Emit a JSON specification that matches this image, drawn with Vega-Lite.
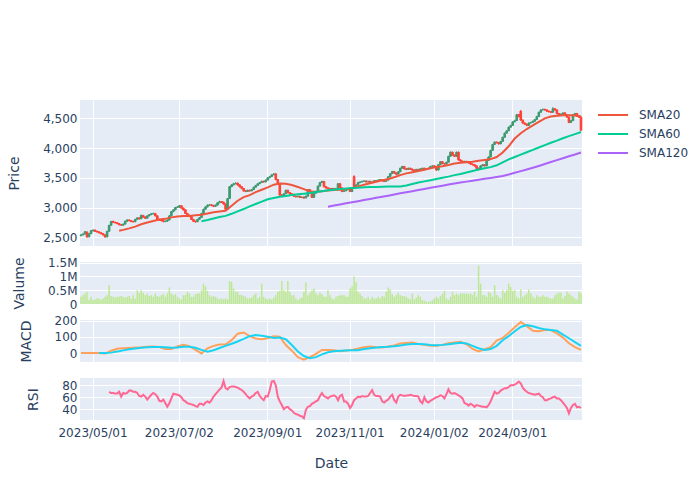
{
"$schema": "https://vega.github.io/schema/vega-lite/v6.json",
"autosize": {"type": "pad"},
"padding": {"left": 7, "top": 100, "right": 0, "bottom": 0},
"background": "white",
"bounds": "flush",
"spacing": 16,
"config": {
  "font": "DejaVu Sans",
  "view": {"fill": "#E5ECF6", "stroke": null},
  "axis": {"domain": false, "ticks": false, "grid": true, "gridColor": "#ffffff", "gridWidth": 1, "gridOpacity": 1, "labelColor": "#2a3f5f", "labelFontSize": 12, "labelPadding": 3, "labelOverlap": false, "titleColor": "#2a3f5f", "titleFontSize": 14, "titleFontWeight": "normal", "titlePadding": 21, "bandPosition": 0.5}
},
"resolve": {"scale": {"x": "shared"}},
"datasets": {
"candles": [
{"date":"2023/04/21","open":2528,"high":2552,"low":2518,"close":2540,"volume":262000},
{"date":"2023/04/24","open":2542,"high":2568,"low":2532,"close":2555,"volume":321000},
{"date":"2023/04/25","open":2556,"high":2605,"low":2548,"close":2594,"volume":381000},
{"date":"2023/04/26","open":2590,"high":2598,"low":2495,"close":2505,"volume":440000},
{"date":"2023/04/27","open":2508,"high":2570,"low":2500,"close":2560,"volume":143000},
{"date":"2023/04/28","open":2562,"high":2622,"low":2555,"close":2610,"volume":262000},
{"date":"2023/05/01","open":2608,"high":2635,"low":2598,"close":2620,"volume":143000},
{"date":"2023/05/04","open":2622,"high":2630,"low":2590,"close":2600,"volume":167000},
{"date":"2023/05/05","open":2602,"high":2610,"low":2578,"close":2590,"volume":202000},
{"date":"2023/05/08","open":2592,"high":2600,"low":2565,"close":2575,"volume":202000},
{"date":"2023/05/09","open":2577,"high":2585,"low":2550,"close":2560,"volume":167000},
{"date":"2023/05/10","open":2562,"high":2570,"low":2530,"close":2540,"volume":202000},
{"date":"2023/05/11","open":2542,"high":2548,"low":2495,"close":2505,"volume":262000},
{"date":"2023/05/12","open":2508,"high":2610,"low":2500,"close":2600,"volume":321000},
{"date":"2023/05/15","open":2602,"high":2712,"low":2595,"close":2700,"volume":678000,"rsi":69},
{"date":"2023/05/16","open":2702,"high":2778,"low":2695,"close":2765,"volume":286000,"rsi":67},
{"date":"2023/05/17","open":2768,"high":2780,"low":2740,"close":2750,"volume":262000,"rsi":67},
{"date":"2023/05/18","open":2752,"high":2762,"low":2732,"close":2745,"volume":238000,"rsi":66},
{"date":"2023/05/19","open":2748,"high":2755,"low":2720,"close":2730,"volume":262000,"rsi":66},
{"date":"2023/05/22","open":2732,"high":2740,"low":2700,"close":2710,"volume":262000,"rsi":69},
{"date":"2023/05/23","open":2712,"high":2725,"low":2692,"close":2705,"volume":286000,"rsi":61},
{"date":"2023/05/24","open":2703,"high":2732,"low":2695,"close":2720,"volume":262000,"rsi":67},
{"date":"2023/05/25","open":2722,"high":2782,"low":2715,"close":2770,"volume":238000,"rsi":66},
{"date":"2023/05/26","open":2772,"high":2805,"low":2762,"close":2790,"volume":262000,"rsi":67},
{"date":"2023/05/29","open":2792,"high":2800,"low":2768,"close":2780,"volume":286000,"rsi":71},
{"date":"2023/05/30","open":2782,"high":2790,"low":2755,"close":2765,"volume":202000,"rsi":71},
{"date":"2023/05/31","open":2767,"high":2778,"low":2748,"close":2760,"volume":321000,"rsi":69},
{"date":"2023/06/01","open":2762,"high":2812,"low":2755,"close":2800,"volume":202000,"rsi":69},
{"date":"2023/06/02","open":2802,"high":2838,"low":2795,"close":2825,"volume":500000,"rsi":67},
{"date":"2023/06/05","open":2827,"high":2835,"low":2798,"close":2810,"volume":405000,"rsi":62},
{"date":"2023/06/06","open":2812,"high":2882,"low":2805,"close":2870,"volume":500000,"rsi":61},
{"date":"2023/06/07","open":2868,"high":2875,"low":2830,"close":2840,"volume":405000,"rsi":64},
{"date":"2023/06/08","open":2842,"high":2850,"low":2808,"close":2820,"volume":321000,"rsi":61},
{"date":"2023/06/09","open":2822,"high":2870,"low":2815,"close":2860,"volume":381000,"rsi":56},
{"date":"2023/06/12","open":2862,"high":2892,"low":2852,"close":2880,"volume":286000,"rsi":60},
{"date":"2023/06/13","open":2882,"high":2908,"low":2872,"close":2895,"volume":321000,"rsi":64},
{"date":"2023/06/14","open":2893,"high":2915,"low":2885,"close":2900,"volume":262000,"rsi":67},
{"date":"2023/06/15","open":2902,"high":2908,"low":2850,"close":2860,"volume":381000,"rsi":65},
{"date":"2023/06/16","open":2862,"high":2868,"low":2790,"close":2800,"volume":286000,"rsi":61},
{"date":"2023/06/19","open":2802,"high":2812,"low":2778,"close":2790,"volume":262000,"rsi":54},
{"date":"2023/06/20","open":2792,"high":2800,"low":2768,"close":2780,"volume":321000,"rsi":53},
{"date":"2023/06/21","open":2782,"high":2790,"low":2752,"close":2765,"volume":357000,"rsi":56},
{"date":"2023/06/22","open":2763,"high":2782,"low":2755,"close":2770,"volume":262000,"rsi":50},
{"date":"2023/06/23","open":2772,"high":2802,"low":2762,"close":2790,"volume":381000,"rsi":44},
{"date":"2023/06/26","open":2792,"high":2872,"low":2785,"close":2860,"volume":595000,"rsi":50},
{"date":"2023/06/27","open":2862,"high":2942,"low":2855,"close":2930,"volume":381000,"rsi":58},
{"date":"2023/06/28","open":2932,"high":2972,"low":2922,"close":2960,"volume":321000,"rsi":66},
{"date":"2023/06/29","open":2962,"high":3012,"low":2955,"close":3000,"volume":357000,"rsi":65},
{"date":"2023/06/30","open":3002,"high":3025,"low":2992,"close":3010,"volume":262000,"rsi":64},
{"date":"2023/07/03","open":3008,"high":3045,"low":3000,"close":3030,"volume":202000,"rsi":63},
{"date":"2023/07/04","open":3032,"high":3038,"low":2980,"close":2990,"volume":167000,"rsi":60},
{"date":"2023/07/05","open":2992,"high":3000,"low":2948,"close":2960,"volume":321000,"rsi":55},
{"date":"2023/07/06","open":2962,"high":2968,"low":2890,"close":2900,"volume":321000,"rsi":53},
{"date":"2023/07/07","open":2902,"high":2910,"low":2858,"close":2870,"volume":440000,"rsi":50},
{"date":"2023/07/10","open":2872,"high":2880,"low":2838,"close":2850,"volume":381000,"rsi":49},
{"date":"2023/07/11","open":2852,"high":2858,"low":2790,"close":2800,"volume":262000,"rsi":48},
{"date":"2023/07/12","open":2802,"high":2810,"low":2758,"close":2770,"volume":262000,"rsi":47},
{"date":"2023/07/13","open":2772,"high":2780,"low":2745,"close":2760,"volume":357000,"rsi":45},
{"date":"2023/07/14","open":2762,"high":2812,"low":2755,"close":2800,"volume":381000,"rsi":44},
{"date":"2023/07/17","open":2802,"high":2842,"low":2795,"close":2830,"volume":381000,"rsi":49},
{"date":"2023/07/18","open":2832,"high":2912,"low":2825,"close":2900,"volume":500000,"rsi":49},
{"date":"2023/07/19","open":2902,"high":2982,"low":2895,"close":2970,"volume":738000,"rsi":47},
{"date":"2023/07/20","open":2972,"high":3022,"low":2962,"close":3010,"volume":643000,"rsi":51},
{"date":"2023/07/21","open":3012,"high":3052,"low":3002,"close":3040,"volume":476000,"rsi":53},
{"date":"2023/07/24","open":3042,"high":3060,"low":3030,"close":3045,"volume":321000,"rsi":51},
{"date":"2023/07/25","open":3047,"high":3055,"low":3022,"close":3035,"volume":262000,"rsi":55},
{"date":"2023/07/26","open":3037,"high":3045,"low":3008,"close":3020,"volume":286000,"rsi":61},
{"date":"2023/07/27","open":3022,"high":3052,"low":3012,"close":3040,"volume":262000,"rsi":65},
{"date":"2023/07/28","open":3042,"high":3092,"low":3035,"close":3080,"volume":202000,"rsi":69},
{"date":"2023/07/31","open":3082,"high":3115,"low":3072,"close":3100,"volume":167000,"rsi":73},
{"date":"2023/08/01","open":3102,"high":3110,"low":3078,"close":3090,"volume":202000,"rsi":76},
{"date":"2023/08/02","open":3092,"high":3098,"low":3048,"close":3060,"volume":167000,"rsi":87},
{"date":"2023/08/03","open":3062,"high":3068,"low":2958,"close":2970,"volume":202000,"rsi":75},
{"date":"2023/08/04","open":2972,"high":3162,"low":2965,"close":3150,"volume":167000,"rsi":73},
{"date":"2023/08/07","open":3152,"high":3362,"low":3145,"close":3350,"volume":833000,"rsi":77},
{"date":"2023/08/08","open":3352,"high":3395,"low":3340,"close":3380,"volume":797000,"rsi":78},
{"date":"2023/08/09","open":3382,"high":3415,"low":3370,"close":3400,"volume":560000,"rsi":78},
{"date":"2023/08/10","open":3402,"high":3425,"low":3390,"close":3410,"volume":440000,"rsi":77},
{"date":"2023/08/11","open":3412,"high":3420,"low":3368,"close":3380,"volume":440000,"rsi":76},
{"date":"2023/08/14","open":3382,"high":3390,"low":3338,"close":3350,"volume":321000,"rsi":74},
{"date":"2023/08/15","open":3352,"high":3360,"low":3308,"close":3320,"volume":321000,"rsi":72},
{"date":"2023/08/16","open":3322,"high":3328,"low":3268,"close":3280,"volume":286000,"rsi":69},
{"date":"2023/08/17","open":3282,"high":3292,"low":3258,"close":3270,"volume":262000,"rsi":65},
{"date":"2023/08/18","open":3272,"high":3302,"low":3262,"close":3290,"volume":202000,"rsi":61},
{"date":"2023/08/21","open":3292,"high":3300,"low":3268,"close":3280,"volume":202000,"rsi":58},
{"date":"2023/08/22","open":3282,"high":3312,"low":3272,"close":3300,"volume":238000,"rsi":61},
{"date":"2023/08/23","open":3302,"high":3352,"low":3295,"close":3340,"volume":321000,"rsi":63},
{"date":"2023/08/24","open":3342,"high":3382,"low":3335,"close":3370,"volume":381000,"rsi":67},
{"date":"2023/08/25","open":3372,"high":3412,"low":3365,"close":3400,"volume":202000,"rsi":69},
{"date":"2023/08/28","open":3402,"high":3432,"low":3392,"close":3420,"volume":262000,"rsi":62},
{"date":"2023/08/29","open":3422,"high":3452,"low":3412,"close":3440,"volume":738000,"rsi":58},
{"date":"2023/08/30","open":3442,"high":3450,"low":3418,"close":3430,"volume":262000,"rsi":55},
{"date":"2023/08/31","open":3432,"high":3472,"low":3425,"close":3460,"volume":202000,"rsi":62},
{"date":"2023/09/01","open":3462,"high":3512,"low":3455,"close":3500,"volume":167000,"rsi":61},
{"date":"2023/09/04","open":3502,"high":3532,"low":3492,"close":3520,"volume":202000,"rsi":72},
{"date":"2023/09/05","open":3522,"high":3562,"low":3515,"close":3550,"volume":167000,"rsi":86},
{"date":"2023/09/06","open":3552,"high":3580,"low":3542,"close":3565,"volume":238000,"rsi":87},
{"date":"2023/09/07","open":3567,"high":3572,"low":3460,"close":3470,"volume":321000,"rsi":80},
{"date":"2023/09/08","open":3472,"high":3478,"low":3390,"close":3400,"volume":440000,"rsi":61},
{"date":"2023/09/11","open":3402,"high":3408,"low":3198,"close":3210,"volume":476000,"rsi":53},
{"date":"2023/09/12","open":3212,"high":3225,"low":3178,"close":3190,"volume":833000,"rsi":47},
{"date":"2023/09/13","open":3192,"high":3242,"low":3185,"close":3230,"volume":500000,"rsi":40},
{"date":"2023/09/14","open":3232,"high":3302,"low":3225,"close":3290,"volume":440000,"rsi":43},
{"date":"2023/09/15","open":3292,"high":3298,"low":3240,"close":3250,"volume":833000,"rsi":44},
{"date":"2023/09/18","open":3252,"high":3260,"low":3218,"close":3230,"volume":440000,"rsi":40},
{"date":"2023/09/19","open":3232,"high":3240,"low":3208,"close":3220,"volume":321000,"rsi":38},
{"date":"2023/09/20","open":3222,"high":3228,"low":3178,"close":3190,"volume":321000,"rsi":34},
{"date":"2023/09/21","open":3192,"high":3200,"low":3168,"close":3180,"volume":202000,"rsi":32},
{"date":"2023/09/22","open":3182,"high":3202,"low":3172,"close":3190,"volume":143000,"rsi":31},
{"date":"2023/09/25","open":3192,"high":3198,"low":3160,"close":3170,"volume":202000,"rsi":29},
{"date":"2023/09/26","open":3168,"high":3188,"low":3158,"close":3175,"volume":238000,"rsi":28},
{"date":"2023/09/27","open":3177,"high":3185,"low":3148,"close":3160,"volume":440000,"rsi":25},
{"date":"2023/09/28","open":3162,"high":3202,"low":3155,"close":3190,"volume":774000,"rsi":39},
{"date":"2023/09/29","open":3192,"high":3312,"low":3185,"close":3300,"volume":321000,"rsi":44},
{"date":"2023/10/04","open":3302,"high":3308,"low":3258,"close":3270,"volume":405000,"rsi":45},
{"date":"2023/10/05","open":3272,"high":3278,"low":3160,"close":3170,"volume":500000,"rsi":49},
{"date":"2023/10/06","open":3172,"high":3252,"low":3165,"close":3240,"volume":560000,"rsi":51},
{"date":"2023/10/09","open":3242,"high":3282,"low":3235,"close":3270,"volume":381000,"rsi":53},
{"date":"2023/10/10","open":3272,"high":3372,"low":3265,"close":3360,"volume":321000,"rsi":55},
{"date":"2023/10/11","open":3362,"high":3432,"low":3355,"close":3420,"volume":405000,"rsi":62},
{"date":"2023/10/12","open":3422,"high":3452,"low":3412,"close":3437,"volume":357000,"rsi":67},
{"date":"2023/10/13","open":3439,"high":3445,"low":3340,"close":3350,"volume":262000,"rsi":62},
{"date":"2023/10/16","open":3352,"high":3360,"low":3318,"close":3330,"volume":262000,"rsi":60},
{"date":"2023/10/17","open":3332,"high":3340,"low":3308,"close":3320,"volume":500000,"rsi":58},
{"date":"2023/10/18","open":3322,"high":3330,"low":3298,"close":3310,"volume":321000,"rsi":61},
{"date":"2023/10/19","open":3308,"high":3332,"low":3298,"close":3320,"volume":202000,"rsi":62},
{"date":"2023/10/20","open":3322,"high":3328,"low":3288,"close":3300,"volume":167000,"rsi":63},
{"date":"2023/10/23","open":3302,"high":3332,"low":3292,"close":3320,"volume":262000,"rsi":61},
{"date":"2023/10/24","open":3322,"high":3412,"low":3315,"close":3400,"volume":286000,"rsi":55},
{"date":"2023/10/25","open":3402,"high":3408,"low":3320,"close":3330,"volume":321000,"rsi":62},
{"date":"2023/10/26","open":3332,"high":3338,"low":3258,"close":3270,"volume":321000,"rsi":64},
{"date":"2023/10/27","open":3272,"high":3292,"low":3262,"close":3280,"volume":321000,"rsi":53},
{"date":"2023/10/30","open":3282,"high":3312,"low":3275,"close":3300,"volume":262000,"rsi":53},
{"date":"2023/10/31","open":3302,"high":3322,"low":3292,"close":3310,"volume":262000,"rsi":49},
{"date":"2023/11/01","open":3312,"high":3318,"low":3258,"close":3270,"volume":560000,"rsi":42},
{"date":"2023/11/02","open":3272,"high":3312,"low":3265,"close":3300,"volume":643000,"rsi":47},
{"date":"2023/11/03","open":3520,"high":3545,"low":3320,"close":3330,"volume":1000000,"rsi":55},
{"date":"2023/11/06","open":3332,"high":3392,"low":3325,"close":3380,"volume":797000,"rsi":58},
{"date":"2023/11/07","open":3382,"high":3432,"low":3375,"close":3420,"volume":440000,"rsi":61},
{"date":"2023/11/08","open":3422,"high":3442,"low":3410,"close":3430,"volume":381000,"rsi":60},
{"date":"2023/11/09","open":3432,"high":3452,"low":3422,"close":3440,"volume":286000,"rsi":62},
{"date":"2023/11/10","open":3442,"high":3458,"low":3432,"close":3445,"volume":202000,"rsi":61},
{"date":"2023/11/13","open":3447,"high":3455,"low":3418,"close":3430,"volume":202000,"rsi":61},
{"date":"2023/11/14","open":3432,"high":3452,"low":3422,"close":3440,"volume":262000,"rsi":62},
{"date":"2023/11/15","open":3442,"high":3450,"low":3408,"close":3420,"volume":167000,"rsi":67},
{"date":"2023/11/16","open":3422,"high":3442,"low":3412,"close":3430,"volume":262000,"rsi":72},
{"date":"2023/11/17","open":3432,"high":3462,"low":3422,"close":3450,"volume":202000,"rsi":64},
{"date":"2023/11/20","open":3452,"high":3460,"low":3428,"close":3440,"volume":202000,"rsi":62},
{"date":"2023/11/21","open":3442,"high":3472,"low":3432,"close":3460,"volume":262000,"rsi":62},
{"date":"2023/11/22","open":3462,"high":3482,"low":3452,"close":3470,"volume":202000,"rsi":61},
{"date":"2023/11/23","open":3472,"high":3480,"low":3438,"close":3450,"volume":286000,"rsi":53},
{"date":"2023/11/24","open":3452,"high":3460,"low":3428,"close":3440,"volume":262000,"rsi":51},
{"date":"2023/11/27","open":3442,"high":3472,"low":3432,"close":3460,"volume":440000,"rsi":54},
{"date":"2023/11/28","open":3462,"high":3532,"low":3455,"close":3520,"volume":595000,"rsi":56},
{"date":"2023/11/29","open":3522,"high":3582,"low":3515,"close":3570,"volume":524000,"rsi":61},
{"date":"2023/11/30","open":3572,"high":3618,"low":3565,"close":3605,"volume":357000,"rsi":64},
{"date":"2023/12/01","open":3607,"high":3615,"low":3568,"close":3580,"volume":262000,"rsi":55},
{"date":"2023/12/04","open":3582,"high":3590,"low":3548,"close":3560,"volume":321000,"rsi":51},
{"date":"2023/12/05","open":3562,"high":3612,"low":3555,"close":3600,"volume":405000,"rsi":61},
{"date":"2023/12/06","open":3602,"high":3672,"low":3595,"close":3660,"volume":321000,"rsi":64},
{"date":"2023/12/07","open":3662,"high":3702,"low":3655,"close":3690,"volume":286000,"rsi":63},
{"date":"2023/12/08","open":3692,"high":3698,"low":3640,"close":3650,"volume":286000,"rsi":62},
{"date":"2023/12/11","open":3652,"high":3662,"low":3628,"close":3640,"volume":262000,"rsi":63},
{"date":"2023/12/12","open":3642,"high":3672,"low":3632,"close":3660,"volume":202000,"rsi":63},
{"date":"2023/12/13","open":3662,"high":3670,"low":3632,"close":3645,"volume":167000,"rsi":64},
{"date":"2023/12/14","open":3647,"high":3655,"low":3618,"close":3630,"volume":381000,"rsi":63},
{"date":"2023/12/15","open":3632,"high":3640,"low":3608,"close":3620,"volume":167000,"rsi":62},
{"date":"2023/12/18","open":3622,"high":3652,"low":3612,"close":3640,"volume":238000,"rsi":62},
{"date":"2023/12/19","open":3642,"high":3650,"low":3618,"close":3630,"volume":321000,"rsi":61},
{"date":"2023/12/20","open":3632,"high":3662,"low":3622,"close":3650,"volume":262000,"rsi":53},
{"date":"2023/12/21","open":3652,"high":3672,"low":3642,"close":3660,"volume":143000,"rsi":50},
{"date":"2023/12/22","open":3662,"high":3670,"low":3628,"close":3640,"volume":119000,"rsi":60},
{"date":"2023/12/26","open":3642,"high":3662,"low":3632,"close":3650,"volume":83000,"rsi":53},
{"date":"2023/12/27","open":3652,"high":3672,"low":3642,"close":3660,"volume":83000,"rsi":51},
{"date":"2023/12/28","open":3662,"high":3702,"low":3655,"close":3690,"volume":83000,"rsi":54},
{"date":"2023/12/29","open":3692,"high":3712,"low":3682,"close":3700,"volume":143000,"rsi":56},
{"date":"2024/01/02","open":3702,"high":3710,"low":3678,"close":3690,"volume":202000,"rsi":58},
{"date":"2024/01/03","open":3692,"high":3698,"low":3618,"close":3630,"volume":262000,"rsi":60},
{"date":"2024/01/04","open":3632,"high":3732,"low":3625,"close":3720,"volume":202000,"rsi":61},
{"date":"2024/01/05","open":3722,"high":3782,"low":3715,"close":3770,"volume":286000,"rsi":63},
{"date":"2024/01/08","open":3772,"high":3780,"low":3728,"close":3740,"volume":357000,"rsi":62},
{"date":"2024/01/09","open":3742,"high":3750,"low":3718,"close":3730,"volume":476000,"rsi":58},
{"date":"2024/01/10","open":3732,"high":3772,"low":3725,"close":3760,"volume":202000,"rsi":65},
{"date":"2024/01/11","open":3762,"high":3872,"low":3755,"close":3860,"volume":143000,"rsi":73},
{"date":"2024/01/12","open":3862,"high":3945,"low":3855,"close":3930,"volume":262000,"rsi":67},
{"date":"2024/01/15","open":3932,"high":3940,"low":3868,"close":3880,"volume":440000,"rsi":66},
{"date":"2024/01/16","open":3882,"high":3890,"low":3848,"close":3860,"volume":321000,"rsi":67},
{"date":"2024/01/17","open":3862,"high":3942,"low":3855,"close":3930,"volume":381000,"rsi":65},
{"date":"2024/01/18","open":3932,"high":3940,"low":3788,"close":3800,"volume":321000,"rsi":63},
{"date":"2024/01/19","open":3802,"high":3810,"low":3768,"close":3780,"volume":381000,"rsi":61},
{"date":"2024/01/22","open":3782,"high":3790,"low":3748,"close":3760,"volume":381000,"rsi":58},
{"date":"2024/01/23","open":3762,"high":3788,"low":3752,"close":3775,"volume":381000,"rsi":50},
{"date":"2024/01/24","open":3777,"high":3785,"low":3748,"close":3760,"volume":381000,"rsi":49},
{"date":"2024/01/25","open":3762,"high":3770,"low":3738,"close":3750,"volume":357000,"rsi":46},
{"date":"2024/01/26","open":3752,"high":3760,"low":3718,"close":3730,"volume":381000,"rsi":49},
{"date":"2024/01/29","open":3732,"high":3740,"low":3708,"close":3720,"volume":321000,"rsi":47},
{"date":"2024/01/30","open":3722,"high":3730,"low":3688,"close":3700,"volume":440000,"rsi":44},
{"date":"2024/01/31","open":3702,"high":3708,"low":3648,"close":3660,"volume":262000,"rsi":47},
{"date":"2024/02/01","open":3662,"high":3670,"low":3625,"close":3640,"volume":1392000,"rsi":46},
{"date":"2024/02/02","open":3642,"high":3712,"low":3635,"close":3700,"volume":738000,"rsi":45},
{"date":"2024/02/05","open":3702,"high":3732,"low":3692,"close":3720,"volume":321000,"rsi":44},
{"date":"2024/02/06","open":3722,"high":3730,"low":3688,"close":3700,"volume":321000,"rsi":44},
{"date":"2024/02/07","open":3702,"high":3802,"low":3695,"close":3790,"volume":262000,"rsi":43},
{"date":"2024/02/08","open":3792,"high":3862,"low":3785,"close":3850,"volume":440000,"rsi":47},
{"date":"2024/02/09","open":3852,"high":3972,"low":3845,"close":3960,"volume":381000,"rsi":53},
{"date":"2024/02/16","open":3962,"high":4072,"low":3955,"close":4060,"volume":262000,"rsi":61},
{"date":"2024/02/19","open":4062,"high":4115,"low":4052,"close":4100,"volume":678000,"rsi":69},
{"date":"2024/02/20","open":4102,"high":4110,"low":4078,"close":4090,"volume":321000,"rsi":66},
{"date":"2024/02/21","open":4092,"high":4100,"low":4058,"close":4070,"volume":262000,"rsi":67},
{"date":"2024/02/22","open":4072,"high":4122,"low":4065,"close":4110,"volume":202000,"rsi":71},
{"date":"2024/02/23","open":4112,"high":4192,"low":4105,"close":4180,"volume":500000,"rsi":73},
{"date":"2024/02/26","open":4182,"high":4262,"low":4175,"close":4250,"volume":405000,"rsi":75},
{"date":"2024/02/27","open":4252,"high":4302,"low":4245,"close":4290,"volume":500000,"rsi":75},
{"date":"2024/02/28","open":4292,"high":4362,"low":4285,"close":4350,"volume":738000,"rsi":77},
{"date":"2024/02/29","open":4352,"high":4392,"low":4345,"close":4380,"volume":619000,"rsi":80},
{"date":"2024/03/01","open":4382,"high":4452,"low":4375,"close":4440,"volume":476000,"rsi":80},
{"date":"2024/03/04","open":4442,"high":4475,"low":4432,"close":4460,"volume":500000,"rsi":81},
{"date":"2024/03/05","open":4462,"high":4575,"low":4455,"close":4560,"volume":262000,"rsi":83},
{"date":"2024/03/06","open":4562,"high":4570,"low":4518,"close":4530,"volume":202000,"rsi":86},
{"date":"2024/03/07","open":4620,"high":4640,"low":4460,"close":4470,"volume":524000,"rsi":83},
{"date":"2024/03/08","open":4472,"high":4480,"low":4408,"close":4420,"volume":262000,"rsi":76},
{"date":"2024/03/11","open":4422,"high":4430,"low":4388,"close":4400,"volume":321000,"rsi":72},
{"date":"2024/03/12","open":4402,"high":4410,"low":4368,"close":4380,"volume":381000,"rsi":69},
{"date":"2024/03/13","open":4382,"high":4432,"low":4375,"close":4420,"volume":524000,"rsi":67},
{"date":"2024/03/14","open":4422,"high":4442,"low":4412,"close":4430,"volume":381000,"rsi":66},
{"date":"2024/03/15","open":4432,"high":4462,"low":4422,"close":4450,"volume":262000,"rsi":65},
{"date":"2024/03/18","open":4452,"high":4492,"low":4445,"close":4480,"volume":202000,"rsi":64},
{"date":"2024/03/19","open":4482,"high":4542,"low":4475,"close":4530,"volume":321000,"rsi":65},
{"date":"2024/03/20","open":4532,"high":4612,"low":4525,"close":4600,"volume":262000,"rsi":66},
{"date":"2024/03/21","open":4602,"high":4652,"low":4595,"close":4640,"volume":262000,"rsi":62},
{"date":"2024/03/22","open":4642,"high":4665,"low":4632,"close":4650,"volume":321000,"rsi":60},
{"date":"2024/03/25","open":4652,"high":4660,"low":4628,"close":4640,"volume":262000,"rsi":55},
{"date":"2024/03/26","open":4642,"high":4650,"low":4608,"close":4620,"volume":262000,"rsi":55},
{"date":"2024/03/27","open":4622,"high":4630,"low":4598,"close":4610,"volume":238000,"rsi":57},
{"date":"2024/03/28","open":4612,"high":4620,"low":4588,"close":4600,"volume":202000,"rsi":58},
{"date":"2024/03/29","open":4602,"high":4690,"low":4595,"close":4660,"volume":202000,"rsi":60},
{"date":"2024/04/01","open":4662,"high":4670,"low":4628,"close":4640,"volume":321000,"rsi":61},
{"date":"2024/04/02","open":4642,"high":4648,"low":4568,"close":4580,"volume":381000,"rsi":58},
{"date":"2024/04/03","open":4582,"high":4590,"low":4538,"close":4550,"volume":405000,"rsi":58},
{"date":"2024/04/04","open":4552,"high":4582,"low":4542,"close":4570,"volume":405000,"rsi":55},
{"date":"2024/04/05","open":4572,"high":4602,"low":4562,"close":4590,"volume":202000,"rsi":51},
{"date":"2024/04/08","open":4592,"high":4600,"low":4548,"close":4560,"volume":286000,"rsi":47},
{"date":"2024/04/09","open":4562,"high":4570,"low":4508,"close":4520,"volume":440000,"rsi":42},
{"date":"2024/04/10","open":4522,"high":4528,"low":4418,"close":4430,"volume":381000,"rsi":33},
{"date":"2024/04/11","open":4432,"high":4472,"low":4425,"close":4460,"volume":321000,"rsi":42},
{"date":"2024/04/12","open":4462,"high":4572,"low":4455,"close":4560,"volume":262000,"rsi":47},
{"date":"2024/04/15","open":4562,"high":4592,"low":4552,"close":4580,"volume":202000,"rsi":49},
{"date":"2024/04/16","open":4582,"high":4590,"low":4528,"close":4540,"volume":167000,"rsi":43},
{"date":"2024/04/17","open":4542,"high":4550,"low":4508,"close":4520,"volume":440000,"rsi":44},
{"date":"2024/04/18","open":4522,"high":4530,"low":4288,"close":4300,"volume":381000,"rsi":42}
],
"lines": [
{"date":"2023/04/21","macd":0},
{"date":"2023/04/26","macd":0},
{"date":"2023/05/01","macd":0},
{"date":"2023/05/08","macd":0,"signal":0},
{"date":"2023/05/11","macd":-3,"signal":0},
{"date":"2023/05/16","macd":15,"signal":3},
{"date":"2023/05/19","macd":27,"signal":10},
{"date":"2023/05/22","SMA20":2610,"macd":28,"signal":12},
{"date":"2023/05/24","SMA20":2625,"macd":30,"signal":17},
{"date":"2023/05/29","SMA20":2650,"macd":32,"signal":24},
{"date":"2023/06/01","SMA20":2680,"macd":34,"signal":29},
{"date":"2023/06/06","SMA20":2720,"macd":36,"signal":33},
{"date":"2023/06/09","SMA20":2750,"macd":39,"signal":36},
{"date":"2023/06/14","SMA20":2775,"macd":41,"signal":38},
{"date":"2023/06/19","SMA20":2800,"macd":38,"signal":38},
{"date":"2023/06/22","SMA20":2810,"macd":26,"signal":36},
{"date":"2023/06/27","SMA20":2835,"macd":25,"signal":33},
{"date":"2023/06/30","SMA20":2850,"macd":42,"signal":35},
{"date":"2023/07/05","SMA20":2860,"macd":52,"signal":40},
{"date":"2023/07/10","SMA20":2860,"macd":43,"signal":40},
{"date":"2023/07/13","SMA20":2870,"macd":20,"signal":33},
{"date":"2023/07/18","SMA20":2880,"SMA60":2770,"macd":-2,"signal":20},
{"date":"2023/07/21","SMA20":2900,"SMA60":2790,"macd":30,"signal":8},
{"date":"2023/07/26","SMA20":2920,"SMA60":2815,"macd":45,"signal":18},
{"date":"2023/07/31","SMA20":2935,"SMA60":2840,"macd":53,"signal":32},
{"date":"2023/08/03","SMA20":2945,"SMA60":2860,"macd":55,"signal":45},
{"date":"2023/08/08","SMA20":3030,"SMA60":2895,"macd":80,"signal":58},
{"date":"2023/08/11","SMA20":3115,"SMA60":2935,"macd":120,"signal":72},
{"date":"2023/08/16","SMA20":3175,"SMA60":2975,"macd":128,"signal":88},
{"date":"2023/08/21","SMA20":3210,"SMA60":3020,"macd":105,"signal":105},
{"date":"2023/08/24","SMA20":3260,"SMA60":3060,"macd":90,"signal":112},
{"date":"2023/08/29","SMA20":3300,"SMA60":3100,"macd":86,"signal":107},
{"date":"2023/09/01","SMA20":3340,"SMA60":3140,"macd":92,"signal":102},
{"date":"2023/09/06","SMA20":3385,"SMA60":3160,"macd":104,"signal":94},
{"date":"2023/09/11","SMA20":3405,"SMA60":3180,"macd":102,"signal":97},
{"date":"2023/09/14","SMA20":3400,"SMA60":3195,"macd":50,"signal":86},
{"date":"2023/09/19","SMA20":3380,"SMA60":3210,"macd":15,"signal":50},
{"date":"2023/09/22","SMA20":3345,"SMA60":3222,"macd":-25,"signal":10},
{"date":"2023/09/27","SMA20":3310,"SMA60":3234,"macd":-41,"signal":-18},
{"date":"2023/10/04","SMA20":3270,"SMA60":3245,"macd":-25,"signal":-31},
{"date":"2023/10/09","SMA20":3265,"SMA60":3260,"macd":-5,"signal":-25},
{"date":"2023/10/12","SMA20":3275,"SMA60":3275,"macd":20,"signal":-8},
{"date":"2023/10/17","SMA20":3285,"SMA60":3290,"SMA120":3015,"macd":20,"signal":5},
{"date":"2023/10/20","SMA20":3295,"SMA60":3300,"SMA120":3035,"macd":18,"signal":12},
{"date":"2023/10/25","SMA20":3300,"SMA60":3310,"SMA120":3053,"macd":12,"signal":15},
{"date":"2023/10/30","SMA20":3310,"SMA60":3320,"SMA120":3072,"macd":16,"signal":16},
{"date":"2023/11/02","SMA20":3325,"SMA60":3328,"SMA120":3090,"macd":20,"signal":17},
{"date":"2023/11/07","SMA20":3355,"SMA60":3335,"SMA120":3108,"macd":28,"signal":18},
{"date":"2023/11/10","SMA20":3385,"SMA60":3340,"SMA120":3127,"macd":37,"signal":25},
{"date":"2023/11/15","SMA20":3410,"SMA60":3344,"SMA120":3145,"macd":41,"signal":30},
{"date":"2023/11/20","SMA20":3435,"SMA60":3347,"SMA120":3164,"macd":37,"signal":35},
{"date":"2023/11/23","SMA20":3460,"SMA60":3350,"SMA120":3182,"macd":35,"signal":38},
{"date":"2023/11/28","SMA20":3480,"SMA60":3352,"SMA120":3200,"macd":41,"signal":40},
{"date":"2023/12/01","SMA20":3510,"SMA60":3354,"SMA120":3220,"macd":47,"signal":43},
{"date":"2023/12/06","SMA20":3545,"SMA60":3356,"SMA120":3240,"macd":59,"signal":47},
{"date":"2023/12/11","SMA20":3575,"SMA60":3370,"SMA120":3258,"macd":63,"signal":53},
{"date":"2023/12/14","SMA20":3595,"SMA60":3395,"SMA120":3276,"macd":65,"signal":57},
{"date":"2023/12/19","SMA20":3615,"SMA60":3420,"SMA120":3295,"macd":57,"signal":57},
{"date":"2023/12/22","SMA20":3635,"SMA60":3440,"SMA120":3313,"macd":51,"signal":55},
{"date":"2023/12/28","SMA20":3660,"SMA60":3460,"SMA120":3332,"macd":45,"signal":50},
{"date":"2024/01/03","SMA20":3680,"SMA60":3480,"SMA120":3350,"macd":45,"signal":49},
{"date":"2024/01/08","SMA20":3695,"SMA60":3500,"SMA120":3368,"macd":51,"signal":51},
{"date":"2024/01/11","SMA20":3715,"SMA60":3520,"SMA120":3387,"macd":61,"signal":55},
{"date":"2024/01/16","SMA20":3740,"SMA60":3545,"SMA120":3405,"macd":66,"signal":60},
{"date":"2024/01/19","SMA20":3755,"SMA60":3565,"SMA120":3420,"macd":70,"signal":64},
{"date":"2024/01/24","SMA20":3760,"SMA60":3590,"SMA120":3436,"macd":55,"signal":60},
{"date":"2024/01/29","SMA20":3770,"SMA60":3615,"SMA120":3452,"macd":26,"signal":45},
{"date":"2024/02/01","SMA20":3785,"SMA60":3640,"SMA120":3467,"macd":10,"signal":30},
{"date":"2024/02/06","SMA20":3800,"SMA60":3660,"SMA120":3483,"macd":24,"signal":20},
{"date":"2024/02/09","SMA20":3815,"SMA60":3680,"SMA120":3498,"macd":37,"signal":25},
{"date":"2024/02/20","SMA20":3850,"SMA60":3710,"SMA120":3515,"macd":78,"signal":45},
{"date":"2024/02/23","SMA20":3925,"SMA60":3760,"SMA120":3530,"macd":94,"signal":80},
{"date":"2024/02/28","SMA20":4030,"SMA60":3810,"SMA120":3555,"macd":126,"signal":105},
{"date":"2024/03/04","SMA20":4160,"SMA60":3850,"SMA120":3585,"macd":160,"signal":135},
{"date":"2024/03/07","SMA20":4250,"SMA60":3890,"SMA120":3612,"macd":192,"signal":162},
{"date":"2024/03/12","SMA20":4320,"SMA60":3930,"SMA120":3640,"macd":167,"signal":174},
{"date":"2024/03/15","SMA20":4380,"SMA60":3970,"SMA120":3670,"macd":139,"signal":166},
{"date":"2024/03/20","SMA20":4440,"SMA60":4010,"SMA120":3700,"macd":135,"signal":155},
{"date":"2024/03/25","SMA20":4500,"SMA60":4050,"SMA120":3732,"macd":143,"signal":147},
{"date":"2024/03/28","SMA20":4530,"SMA60":4090,"SMA120":3765,"macd":143,"signal":143},
{"date":"2024/04/02","SMA20":4545,"SMA60":4125,"SMA120":3797,"macd":122,"signal":138},
{"date":"2024/04/05","SMA20":4550,"SMA60":4165,"SMA120":3830,"macd":96,"signal":115},
{"date":"2024/04/10","SMA20":4550,"SMA60":4200,"SMA120":3862,"macd":61,"signal":92},
{"date":"2024/04/15","SMA20":4548,"SMA60":4235,"SMA120":3893,"macd":37,"signal":68},
{"date":"2024/04/18","SMA20":4530,"SMA60":4270,"SMA120":3925,"macd":20,"signal":45}
]
},
"vconcat": [
{
  "width": 502, "height": 146,
  "layer": [
    {
      "data": {"name": "candles"},
      "mark": {"type": "rule", "strokeWidth": 1},
      "encoding": {
        "x": {"field": "date", "type": "ordinal", "sort": "ascending", "scale": {"type": "band", "paddingInner": 0, "paddingOuter": 0},
              "axis": {"title": null, "labels": false, "grid": true, "values": ["2023/05/01","2023/07/03","2023/09/01","2023/11/01","2024/01/02","2024/03/01"]}},
        "y": {"field": "low", "type": "quantitative", "scale": {"domain": [2354, 4808], "nice": false, "zero": false},
              "axis": {"title": "Price", "values": [2500,3000,3500,4000,4500], "tickCount": 20, "format": ",.0f", "labelOverlap": false}},
        "y2": {"field": "high"},
        "color": {"condition": {"test": "datum.close >= datum.open", "value": "#3D9970"}, "value": "#FF4136"}
      }
    },
    {
      "data": {"name": "candles"},
      "mark": {"type": "bar", "width": 1.6, "strokeWidth": 1},
      "encoding": {
        "x": {"field": "date", "type": "ordinal", "sort": "ascending"},
        "y": {"field": "open", "type": "quantitative"},
        "y2": {"field": "close"},
        "fill": {"condition": {"test": "datum.close >= datum.open", "value": "#3D9970"}, "value": "#FF4136"},
        "stroke": {"condition": {"test": "datum.close >= datum.open", "value": "#3D9970"}, "value": "#FF4136"}
      }
    },
    {
      "data": {"name": "lines"},
      "transform": [
        {"fold": ["SMA20", "SMA60", "SMA120"], "as": ["series", "value"]},
        {"filter": "isValid(datum.value)"}
      ],
      "mark": {"type": "line", "strokeWidth": 2},
      "encoding": {
        "x": {"field": "date", "type": "ordinal", "sort": "ascending"},
        "y": {"field": "value", "type": "quantitative"},
        "color": {"field": "series", "type": "nominal",
                  "scale": {"domain": ["SMA20", "SMA60", "SMA120"], "range": ["#EF553B", "#00CC96", "#AB63FA"]},
                  "legend": {"title": null, "orient": "right", "offset": 13, "padding": 9,
                             "symbolType": "M-3,0H3", "symbolSize": 100, "symbolStrokeWidth": 2,
                             "labelFontSize": 12, "labelColor": "#2a3f5f", "labelOffset": 20, "rowPadding": 7}}
      }
    }
  ]
},
{
  "width": 502, "height": 42,
  "data": {"name": "candles"},
  "mark": {"type": "bar", "width": {"band": 0.75}, "color": "#B6E880", "opacity": 0.85},
  "encoding": {
    "x": {"field": "date", "type": "ordinal", "sort": "ascending", "axis": null},
    "y": {"field": "volume", "type": "quantitative", "scale": {"domain": [0, 1520000], "nice": false},
          "axis": {"title": "Valume", "values": [0, 500000, 1000000, 1500000], "tickCount": 20, "labelOverlap": false,
                   "labelExpr": "datum.value == 0 ? '0' : format(datum.value / 1000000, '~g') + 'M'"}}
  }
},
{
  "width": 502, "height": 42,
  "layer": [
    {
      "mark": {"type": "rule", "color": "#ffffff", "strokeWidth": 2},
      "encoding": {"y": {"datum": 0, "type": "quantitative"}}
    },
    {
      "data": {"name": "lines"},
      "transform": [{"filter": "isValid(datum.macd)"}],
      "mark": {"type": "line", "color": "#FFA15A", "strokeWidth": 2},
      "encoding": {
        "x": {"field": "date", "type": "ordinal", "sort": "ascending",
              "axis": {"title": null, "labels": false, "grid": true, "values": ["2023/05/01","2023/07/03","2023/09/01","2023/11/01","2024/01/02","2024/03/01"]}},
        "y": {"field": "macd", "type": "quantitative", "scale": {"domain": [-55, 205], "nice": false},
              "axis": {"title": "MACD", "values": [0, 100, 200], "tickCount": 20, "labelOverlap": false}}
      }
    },
    {
      "data": {"name": "lines"},
      "transform": [{"filter": "isValid(datum.signal)"}],
      "mark": {"type": "line", "color": "#19D3F3", "strokeWidth": 2},
      "encoding": {
        "x": {"field": "date", "type": "ordinal", "sort": "ascending"},
        "y": {"field": "signal", "type": "quantitative"}
      }
    }
  ]
},
{
  "width": 502, "height": 42,
  "data": {"name": "candles"},
  "transform": [{"filter": "isValid(datum.rsi)"}],
  "mark": {"type": "line", "color": "#FF6692", "strokeWidth": 2},
  "encoding": {
    "x": {"field": "date", "type": "ordinal", "sort": "ascending",
          "axis": {"title": "Date", "titlePadding": 18, "labelAngle": 0, "labelPadding": 7, "grid": true,
                   "values": ["2023/05/01","2023/07/03","2023/09/01","2023/11/01","2024/01/02","2024/03/01"],
                   "labelExpr": "datum.value == '2023/07/03' ? '2023/07/02' : datum.value"}},
    "y": {"field": "rsi", "type": "quantitative", "scale": {"domain": [22, 92], "nice": false, "zero": false},
          "axis": {"title": "RSI", "values": [40, 60, 80], "tickCount": 20, "labelOverlap": false}}
  }
}
]
}
